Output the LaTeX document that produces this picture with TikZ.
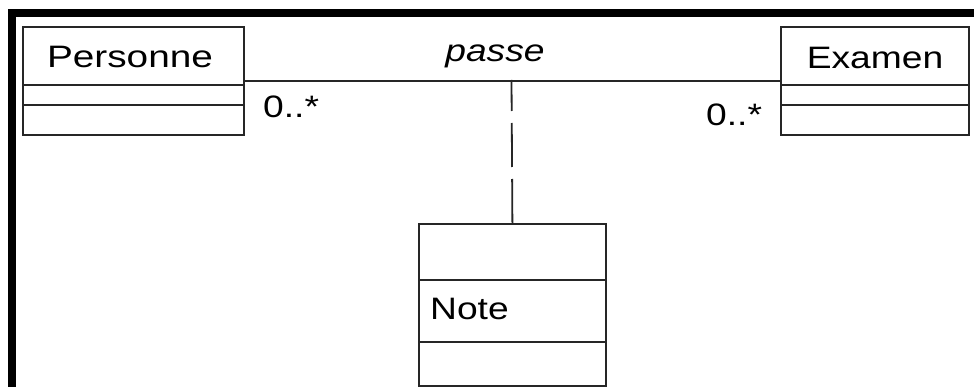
\documentclass[tikz,border=0pt]{standalone}
\usepackage{fontspec}
\setmainfont{Liberation Sans}
\usepackage{graphicx}
\newcommand\hstretch[1]{\scalebox{1.2}[1]{#1}}
\begin{document}
\begin{tikzpicture}[x=1pt,y=-1pt,
  umlbox/.style={draw=black!85,line width=1.8pt,rectangle,inner sep=0pt,anchor=north west,fill=white},
  lbl/.style={inner sep=0pt,font=\fontsize{31}{37}\selectfont},
  sepline/.style={draw=black!85,line width=1.8pt},
  assoc/.style={draw=black!85,line width=1.8pt},
  frame/.style={fill=black},
]
\useasboundingbox (0,0) rectangle (974,387);
\fill[white] (0,0) rectangle (974,387);
% frame
\fill[frame] (8,9) rectangle (974,17);
\fill[frame] (8,9) rectangle (16,387);
% classes
\node[umlbox,minimum width=221pt,minimum height=108pt] (personne) at (22,26) {};
\node[umlbox,minimum width=188pt,minimum height=108pt] (examen) at (780,26) {};
\node[umlbox,minimum width=187pt,minimum height=162pt] (note) at (418,223) {};
\draw[sepline] (22,85) -- (243,85);
\draw[sepline] (22,105) -- (243,105);
\draw[sepline] (780,85) -- (968,85);
\draw[sepline] (780,105) -- (968,105);
\draw[sepline] (418,280) -- (605,280);
\draw[sepline] (418,342) -- (605,342);
% texts
\node[lbl,anchor=base] (tpers) at (130,68) {\scalebox{1.25}[1]{Personne}};
\node[lbl,anchor=base] (texam) at (875,69) {\hstretch{Examen}};
\node[lbl,anchor=base west] (tnote) at (430,319) {\hstretch{Note}};
% association
\draw[assoc] (personne.east) -- (examen.west);
\coordinate (mid) at (511.5,80);
\draw[assoc,dash pattern=on 44pt off 12pt] (note.north) -- (mid);
\node[lbl,anchor=base] (passe) at (495,62) {\hstretch{\itshape passe}};
\node[lbl,anchor=base west] (m1) at (263,118) {\hstretch{0..*}};
\node[lbl,anchor=base west] (m2) at (706,126) {\hstretch{0..*}};
\end{tikzpicture}
\end{document}
